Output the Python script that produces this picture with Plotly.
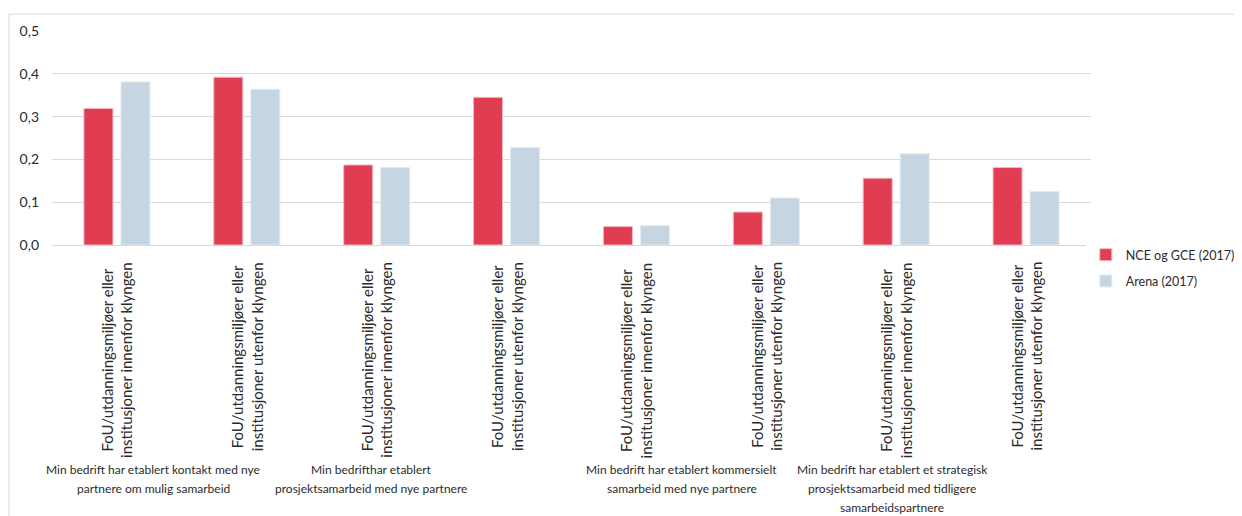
import plotly.graph_objects as go

groups = [
    "Min bedrift har etablert kontakt med nye<br>partnere om mulig samarbeid",
    "Min bedrifthar etablert<br>prosjektsamarbeid med nye partnere",
    "Min bedrift har etablert kommersielt<br>samarbeid med nye partnere",
    "Min bedrift har etablert et strategisk<br>prosjektsamarbeid med tidligere<br>samarbeidspartnere",
]
sub_labels = [
    "FoU/utdanningsmiljøer eller<br>institusjoner innenfor klyngen",
    "FoU/utdanningsmiljøer eller<br>institusjoner utenfor klyngen",
]
nce = [0.319, 0.392, 0.187, 0.345, 0.043, 0.077, 0.156, 0.181]
arena = [0.381, 0.364, 0.181, 0.228, 0.045, 0.110, 0.213, 0.125]

# Excel places the group labels a bit off-centre; positions in category units
group_label_x = [0.28, 1.96, 4.35, 5.97]

cats = [f"{g}|{s}" for g in range(len(groups)) for s in range(len(sub_labels))]
FONT = "Lato"
TXT = "#2b2b2b"

fig = go.Figure()
fig.add_trace(go.Bar(x=cats, y=nce, name="NCE og GCE (2017)", legendgroup="a",
                     marker=dict(color="#E03C52", line=dict(color="#f3b9c1", width=1))))
fig.add_trace(go.Bar(x=cats, y=arena, name="Arena (2017)", legendgroup="b",
                     marker=dict(color="#C5D5E2", line=dict(color="#e3ebf1", width=1))))

annotations = []
for i, c in enumerate(cats):
    annotations.append(dict(
        x=c, y=0, xref="x", yref="y", text=sub_labels[i % 2],
        textangle=-90, showarrow=False, xanchor="center", yanchor="top",
        yshift=-15, font=dict(family=FONT, size=15, color=TXT),
    ))
# one annotation per line so the line spacing can follow the reference
for gx, g in zip(group_label_x, groups):
    for k, line in enumerate(g.split("<br>")):
        annotations.append(dict(
            x=gx, y=0, xref="x", yref="y", text=line, showarrow=False,
            xanchor="center", yanchor="middle", yshift=-224 - 19 * k,
            font=dict(family=FONT, size=12, color=TXT),
        ))

fig.update_layout(
    width=1234, height=508,
    margin=dict(l=44, r=151, t=23, b=271, autoexpand=False),
    paper_bgcolor="white", plot_bgcolor="white",
    separators=", ",
    barmode="group", bargap=0.43, bargroupgap=0.216,
    font=dict(family=FONT, size=13, color=TXT),
    xaxis=dict(range=[-0.5, len(cats) - 0.5], autorange=False,
               showticklabels=False, showgrid=False, zeroline=False,
               showline=False, ticks=""),
    yaxis=dict(range=[0, 0.5], dtick=0.1, tickformat=".1f",
               gridcolor="#d9d9d9", gridwidth=1, zeroline=True,
               zerolinecolor="#d9d9d9", zerolinewidth=1,
               ticklabelstandoff=12, tickfont=dict(size=14)),
    legend=dict(x=0.995, y=0.023, xanchor="left", yanchor="top",
                font=dict(size=12.5), itemwidth=30,
                traceorder="grouped", tracegroupgap=7),
    annotations=annotations,
    shapes=[dict(type="rect", xref="paper", yref="paper",
                 x0=-0.0414, x1=1.2, y0=-1.4, y1=1.079,
                 line=dict(color="#d9d9d9", width=1), layer="below")],
)

fig.write_html("out.html")
